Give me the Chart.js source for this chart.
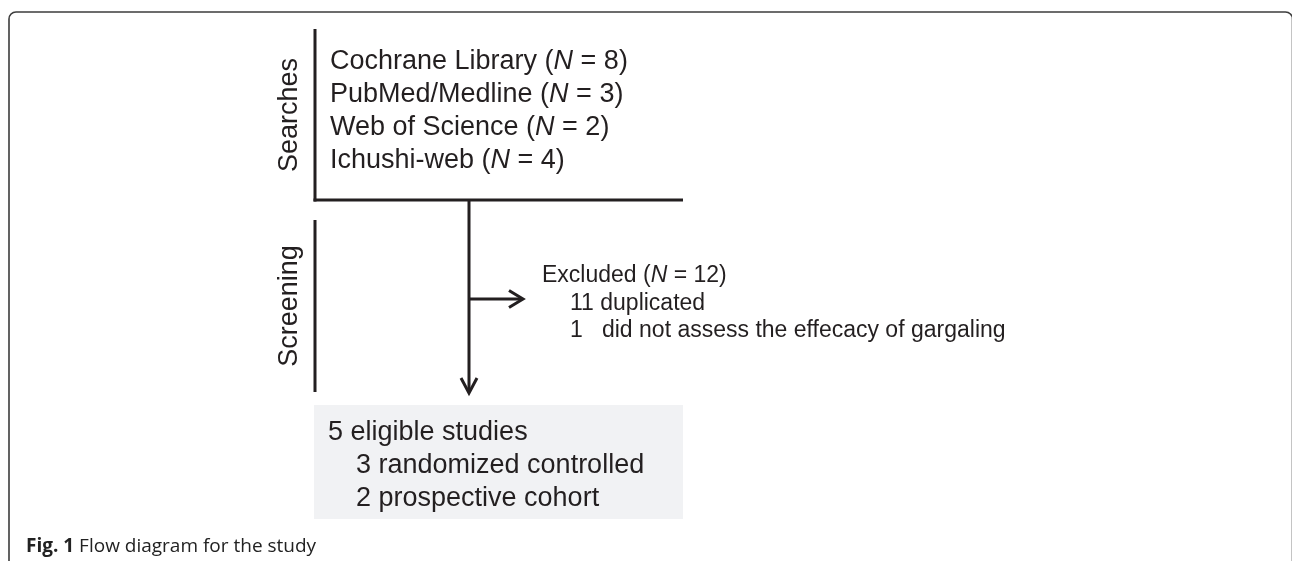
<!DOCTYPE html>
<html>
<head>
<meta charset="utf-8">
<script src="https://cdn.jsdelivr.net/npm/chart.js@4/dist/chart.umd.min.js"></script>
<style>
  html, body { margin: 0; padding: 0; background: #ffffff; }
  #wrap { width: 1292px; height: 561px; }
</style>
</head>
<body>
<div id="wrap"><canvas id="c" width="1292" height="561"></canvas></div>
<script>
// ---- data ----
const stageLabels = ['Searches', 'Screening'];
const searchSources = ['Cochrane Library', 'PubMed/Medline', 'Web of Science', 'Ichushi-web'];
const searchCounts = [8, 3, 2, 4];
const excludedTotal = 12;
const exclusionCounts = [11, 1];
const exclusionReasons = ['duplicated', 'did not assess the effecacy of gargaling'];
const eligibleTotal = 5;
const studyCounts = [3, 2];
const studyTypes = ['randomized controlled', 'prospective cohort'];
const captionLabel = 'Fig. 1';
const captionText = 'Flow diagram for the study';

// ---- layout (diagram coordinate space = 1292 x 561) ----
const L = {
  frame: { x: 9, y: 12, r: 7 },
  searchBar: { x: 315, y0: 29, y1: 201.5 },
  divider: { y: 200, x0: 313.5, x1: 683 },
  mainArrow: { x: 469, y0: 200, y1: 393, head: 8, headLen: 15 },
  screenBar: { x: 315, y0: 220, y1: 392 },
  sideArrow: { y: 299, x0: 469, x1: 523, head: 8.5, headLen: 14 },
  box: { x0: 314, y0: 405, x1: 683, y1: 519 },
  stageText: { x: 290, y: [115, 306] },
  searchText: { x: 330, y0: 69, dy: 33 },
  exclText: { x: 542, x2: 570, y0: 282, dy: 27.5 },
  boxText: { x: 328, x2: 356, y0: 440, dy: 33 },
  caption: { x: 26, y: 552 }
};
const INK = '#231f20';
const MAIN_FONT = '"Liberation Sans", Arial, Helvetica, sans-serif';

function seg(points) {
  return {
    data: points.map(p => ({ x: p[0], y: p[1] })),
    showLine: true, pointRadius: 0, borderWidth: 3,
    borderColor: INK, backgroundColor: INK, fill: false,
    borderCapStyle: 'butt', borderJoinStyle: 'miter', tension: 0
  };
}

const datasets = [
  seg([[L.searchBar.x, L.searchBar.y0], [L.searchBar.x, L.searchBar.y1]]),
  seg([[L.divider.x0, L.divider.y], [L.divider.x1, L.divider.y]]),
  seg([[L.mainArrow.x, L.mainArrow.y0], [L.mainArrow.x, L.mainArrow.y1 - 1]]),
  seg([[L.mainArrow.x - L.mainArrow.head, L.mainArrow.y1 - L.mainArrow.headLen],
       [L.mainArrow.x, L.mainArrow.y1],
       [L.mainArrow.x + L.mainArrow.head, L.mainArrow.y1 - L.mainArrow.headLen]]),
  seg([[L.screenBar.x, L.screenBar.y0], [L.screenBar.x, L.screenBar.y1]]),
  seg([[L.sideArrow.x0, L.sideArrow.y], [L.sideArrow.x1 - 1, L.sideArrow.y]]),
  seg([[L.sideArrow.x1 - L.sideArrow.headLen, L.sideArrow.y - L.sideArrow.head],
       [L.sideArrow.x1, L.sideArrow.y],
       [L.sideArrow.x1 - L.sideArrow.headLen, L.sideArrow.y + L.sideArrow.head]])
];

// draw a line of mixed-style runs
function runs(ctx, x, y, parts, size) {
  let cx = x;
  parts.forEach(p => {
    ctx.font = (p.i ? 'italic ' : '') + (p.b ? 'bold ' : '') + size + 'px ' + (p.f || MAIN_FONT);
    ctx.fillText(p.t, cx, y);
    cx += ctx.measureText(p.t).width;
  });
}

const diagramPlugin = {
  id: 'diagram',
  beforeDatasetsDraw(chart) {
    const ctx = chart.ctx, xs = chart.scales.x, ys = chart.scales.y;
    const X = v => xs.getPixelForValue(v), Y = v => ys.getPixelForValue(v);
    ctx.save();
    // outer frame
    ctx.strokeStyle = '#3c3c3c';
    ctx.lineWidth = 1.6;
    ctx.beginPath();
    const fx = X(L.frame.x), fy = Y(L.frame.y), r = L.frame.r;
    const right = X(1292.5), bottom = Y(561) + 20;
    ctx.moveTo(fx, bottom);
    ctx.lineTo(fx, fy + r);
    ctx.arcTo(fx, fy, fx + r, fy, r);
    ctx.lineTo(right - r, fy);
    ctx.arcTo(right, fy, right, fy + r, r);
    ctx.lineTo(right, bottom);
    ctx.stroke();
    // eligible box
    ctx.fillStyle = '#f1f2f4';
    ctx.fillRect(X(L.box.x0), Y(L.box.y0), X(L.box.x1) - X(L.box.x0), Y(L.box.y1) - Y(L.box.y0));
    ctx.restore();
  },
  afterDatasetsDraw(chart) {
    const ctx = chart.ctx, xs = chart.scales.x, ys = chart.scales.y;
    const X = v => xs.getPixelForValue(v), Y = v => ys.getPixelForValue(v);
    ctx.save();
    ctx.fillStyle = INK;
    // stage labels (rotated)
    stageLabels.forEach((s, i) => {
      ctx.save();
      ctx.translate(X(L.stageText.x), Y(L.stageText.y[i]));
      ctx.rotate(-Math.PI / 2);
      ctx.font = '27px ' + MAIN_FONT;
      ctx.textAlign = 'center';
      ctx.textBaseline = 'middle';
      ctx.fillText(s, 0, 0);
      ctx.restore();
    });
    ctx.textAlign = 'left';
    ctx.textBaseline = 'alphabetic';
    // search sources
    searchSources.forEach((s, i) => {
      runs(ctx, X(L.searchText.x), Y(L.searchText.y0 + i * L.searchText.dy),
        [{ t: s + ' (' }, { t: 'N', i: true }, { t: ' = ' + searchCounts[i] + ')' }], 27);
    });
    // exclusions
    runs(ctx, X(L.exclText.x), Y(L.exclText.y0),
      [{ t: 'Excluded (' }, { t: 'N', i: true }, { t: ' = ' + excludedTotal + ')' }], 23);
    exclusionReasons.forEach((s, i) => {
      const gap = String(exclusionCounts[i]).length === 1 ? '   ' : ' ';
      runs(ctx, X(L.exclText.x2), Y(L.exclText.y0 + (i + 1) * L.exclText.dy),
        [{ t: exclusionCounts[i] + gap + s }], 23);
    });
    // eligible box
    runs(ctx, X(L.boxText.x), Y(L.boxText.y0), [{ t: eligibleTotal + ' eligible studies' }], 27);
    studyTypes.forEach((s, i) => {
      runs(ctx, X(L.boxText.x2), Y(L.boxText.y0 + (i + 1) * L.boxText.dy),
        [{ t: studyCounts[i] + ' ' + s }], 27);
    });
    // caption
    ctx.fillStyle = '#222';
    runs(ctx, X(L.caption.x), Y(L.caption.y),
      [{ t: captionLabel + ' ', b: true, f: '"Open Sans", "Noto Sans", sans-serif' },
       { t: captionText, f: '"Open Sans", "Noto Sans", sans-serif' }], 19);
    ctx.restore();
  }
};

new Chart(document.getElementById('c'), {
  type: 'scatter',
  data: { datasets },
  options: {
    responsive: false,
    animation: false,
    events: [],
    layout: { padding: 0 },
    plugins: { legend: { display: false }, tooltip: { enabled: false } },
    scales: {
      x: { type: 'linear', min: 0, max: 1292, display: false },
      y: { type: 'linear', min: 0, max: 561, reverse: true, display: false }
    }
  },
  plugins: [diagramPlugin]
});
</script>
</body>
</html>
